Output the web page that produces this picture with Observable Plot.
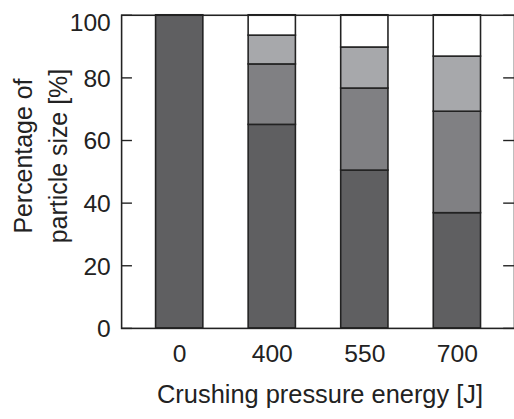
<!DOCTYPE html>
<html>
<head>
<meta charset="utf-8">
<script src="https://cdn.jsdelivr.net/npm/d3@7"></script>
<script src="https://cdn.jsdelivr.net/npm/@observablehq/plot@0.6"></script>
<style>
  html, body { margin: 0; padding: 0; overflow: hidden; background: #fff; }
  #chart svg { display: block; }
</style>
</head>
<body>
<div id="chart"></div>
<script>
// Categories (x) and stacked series (bottom to top)
const energies = ["0", "400", "550", "700"];
const sizeClasses = ["class1", "class2", "class3", "class4"];
const class1 = [100, 65, 50.4, 36.8];
const class2 = [0, 19.3, 26.2, 32.4];
const class3 = [0, 9.2, 13.1, 17.6];
const class4 = [0, 6.5, 10.3, 13.2];
const classColors = ["#5f5f61", "#808083", "#a7a8ab", "#ffffff"];
const yTicks = [0, 20, 40, 60, 80, 100];
const xLabel = "Crushing pressure energy [J]";
const yLabel = "Percentage of\nparticle size [%]";

const seriesValues = [class1, class2, class3, class4];
const rows = [];
energies.forEach((e, i) => {
  sizeClasses.forEach((c, j) => {
    if (seriesValues[j][i] > 0) rows.push({energy: e, cls: c, value: seriesValues[j][i]});
  });
});

const W = 522, H = 419, mL = 123, mR = 0, mT = 15, mB = 86;
const plotW = W - mL - mR;
const ink = "#222";
const font = "Liberation Sans, Arial, sans-serif";

const chart = Plot.plot({
  width: W,
  height: H,
  marginLeft: mL,
  marginRight: mR,
  marginTop: mT,
  marginBottom: mB,
  style: {fontFamily: font, fontSize: "25px", color: ink, background: "#fff"},
  x: {domain: energies, paddingInner: 0.493, paddingOuter: 0.356, axis: null},
  y: {domain: [0, 100], axis: null},
  color: {domain: sizeClasses, range: classColors},
  marks: [
    Plot.barY(rows, Plot.stackY({
      x: "energy", y: "value", fill: "cls", z: "cls",
      order: sizeClasses,
      stroke: ink, strokeWidth: 1.6
    })),
    // inward ticks, left side
    Plot.tickY(yTicks, {y: d => d, stroke: ink, strokeWidth: 1.4, insetRight: plotW - 11}),
    // inward ticks, right side
    Plot.tickY(yTicks, {y: d => d, stroke: ink, strokeWidth: 1.4, insetLeft: plotW - 11}),
    Plot.frame({stroke: ink, strokeWidth: 1.6}),
    // y tick labels
    Plot.axisY(yTicks.filter(d => d < 100), {tickSize: 0, tickPadding: 11, dy: 1, fontSize: 25, fill: ink, fontFamily: font, label: null}),
    Plot.axisY([100], {tickSize: 0, tickPadding: 11, dy: 8, fontSize: 25, fill: ink, fontFamily: font, label: null}),
    // x tick labels
    Plot.axisX(energies, {tickSize: 0, tickPadding: 16, fontSize: 25, fill: ink, fontFamily: font, label: null}),
    // axis titles
    Plot.text([xLabel], {frameAnchor: "bottom", textAnchor: "middle", dx: 2, dy: 67, fontSize: 25.8, fill: ink, fontFamily: font, lineAnchor: "middle"}),
    Plot.text([yLabel], {frameAnchor: "left", textAnchor: "middle", dx: -84.5, dy: -16, rotate: -90, fontSize: 25.3, fill: ink, fontFamily: font, lineAnchor: "middle", lineHeight: 1.4})
  ]
});
document.getElementById("chart").appendChild(chart);
</script>
</body>
</html>
